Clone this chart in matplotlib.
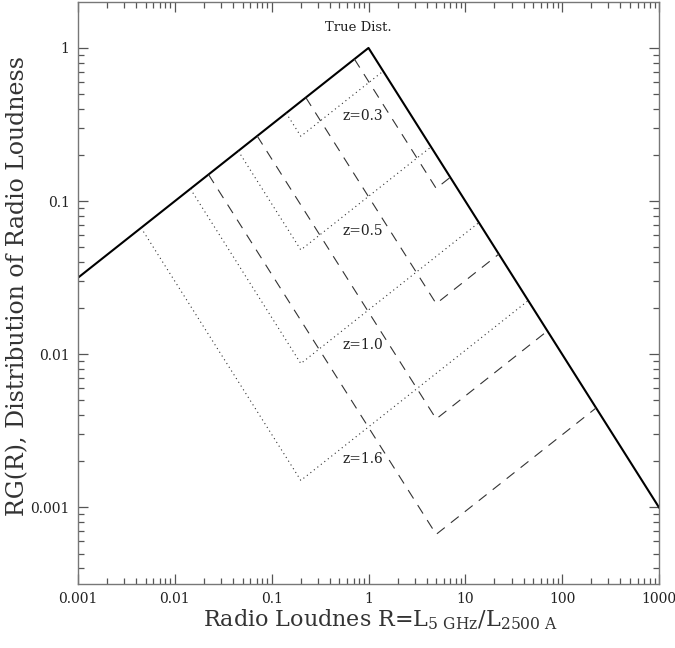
import matplotlib
matplotlib.use('Agg')
import matplotlib.pyplot as plt
from matplotlib.ticker import LogLocator, FixedLocator, FuncFormatter, NullFormatter

plt.rcParams['font.family'] = ['DejaVu Serif']
plt.rcParams['mathtext.fontset'] = 'dejavuserif'

# True distribution (broken power law)
R_true = [0.001, 1.0, 1000.0]
G_true = [0.0316, 1.0, 0.001]

z_labels = ['z=0.3', 'z=0.5', 'z=1.0', 'z=1.6']

# dotted curves: left end on true dist, corner at R=0.2, right end on true dist
R_dot_left = [0.141, 0.0452, 0.0145, 0.00448]
G_dot_left = [0.376, 0.2125, 0.120, 0.0669]
R_dot_min = [0.2, 0.2, 0.2, 0.2]
G_dot_min = [0.265, 0.048, 0.0087, 0.0015]
R_dot_right = [1.42, 4.43, 13.8, 44.6]
G_dot_right = [0.706, 0.226, 0.0724, 0.0224]

# dashed curves: corner at R=5
R_dash_left = [0.715, 0.225, 0.0709, 0.0223]
G_dash_left = [0.846, 0.475, 0.266, 0.149]
R_dash_min = [5.0, 5.0, 5.0, 5.0]
G_dash_min = [0.121, 0.0214, 0.00378, 0.000667]
R_dash_right = [6.99, 22.2, 70.5, 224.0]
G_dash_right = [0.143, 0.0451, 0.0142, 0.00446]

# label positions
label_R = [0.87, 0.87, 0.87, 0.87]
label_G = [0.36, 0.0637, 0.01145, 0.00206]

fig = plt.figure(figsize=(6.75, 6.48), dpi=100)
ax = fig.add_axes([78 / 675, 1 - 584 / 648, 581 / 675, 582 / 648])

ax.plot(R_true, G_true, color='black', lw=1.5)

for i in range(len(z_labels)):
    ax.plot([R_dot_left[i], R_dot_min[i], R_dot_right[i]],
            [G_dot_left[i], G_dot_min[i], G_dot_right[i]],
            color='#333333', lw=0.8, linestyle=(0, (1, 3)))
    ax.plot([R_dash_left[i], R_dash_min[i], R_dash_right[i]],
            [G_dash_left[i], G_dash_min[i], G_dash_right[i]],
            color='#333333', lw=0.8, linestyle=(0, (9, 7)))
    ax.text(label_R[i], label_G[i], z_labels[i], ha='center', va='center',
            fontsize=10, color='#222222')

ax.text(0.79, 1.35, 'True Dist.', ha='center', va='center', fontsize=9.5, color='#222222')

ax.set_xscale('log')
ax.set_yscale('log')
ax.set_xlim(0.001, 1000)
ax.set_ylim(10 ** -3.5, 10 ** 0.3)

fmt = FuncFormatter(lambda v, p: '%g' % v)
ax.xaxis.set_major_locator(FixedLocator([0.001, 0.01, 0.1, 1, 10, 100, 1000]))
ax.yaxis.set_major_locator(FixedLocator([0.001, 0.01, 0.1, 1]))
ax.xaxis.set_major_formatter(fmt)
ax.yaxis.set_major_formatter(fmt)
ax.xaxis.set_minor_locator(LogLocator(base=10, subs=range(2, 10), numticks=20))
ax.yaxis.set_minor_locator(LogLocator(base=10, subs=range(2, 10), numticks=20))
ax.xaxis.set_minor_formatter(NullFormatter())
ax.yaxis.set_minor_formatter(NullFormatter())

ax.tick_params(which='both', direction='in', top=True, right=True,
               color='#555555', labelsize=10, labelcolor='#222222', width=0.9)
ax.tick_params(which='major', length=7, pad=6)
ax.tick_params(which='minor', length=4.5)
for s in ax.spines.values():
    s.set_color('#777777')
    s.set_linewidth(1.0)

fig.text(18 / 675, 1 - 286 / 648, 'RG(R), Distribution of Radio Loudness',
         rotation=90, ha='center', va='center', fontsize=17, color='#333333')
fig.text(381 / 675, 1 - 620 / 648,
         r'Radio Loudnes R=L$_{\mathrm{5\ GHz}}$/L$_{\mathrm{2500\ A}}$',
         ha='center', va='center', fontsize=16, color='#333333')

fig.savefig('out.png', dpi=100)
